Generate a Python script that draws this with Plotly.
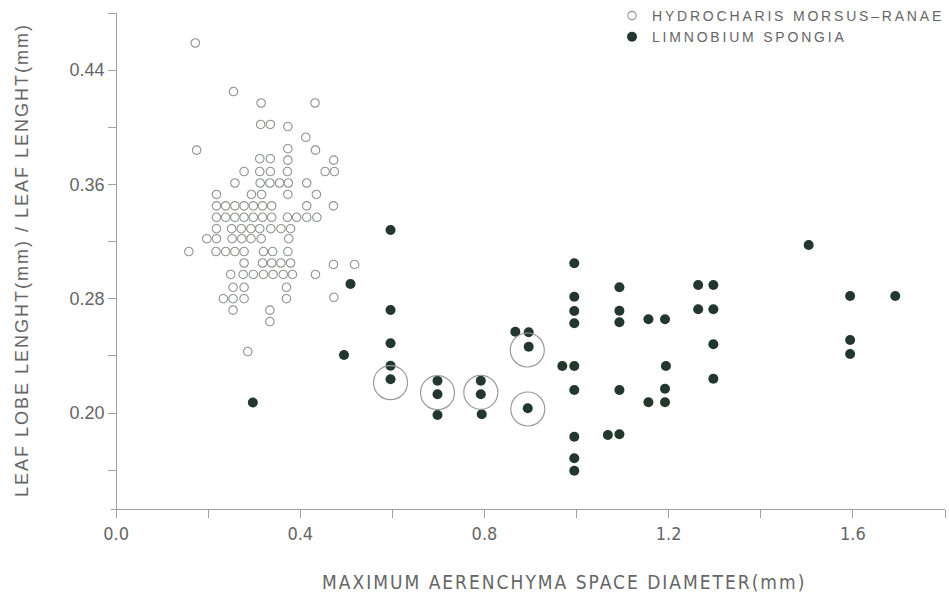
import plotly.graph_objects as go

# ---------------- data ----------------
# Hydrocharis morsus-ranae (open circles)
hydro_x = [0.172, 0.255, 0.315, 0.432, 0.314, 0.335, 0.373, 0.412,
           0.175, 0.373, 0.433, 0.312, 0.335, 0.373, 0.4725,
           0.278, 0.312, 0.335, 0.372, 0.454, 0.474,
           0.258, 0.313, 0.334, 0.355, 0.374, 0.414,
           0.218, 0.294, 0.316, 0.373, 0.435,
           0.218, 0.238, 0.258, 0.278, 0.298, 0.318, 0.338, 0.414, 0.472,
           0.218, 0.238, 0.258, 0.278, 0.298, 0.318, 0.338, 0.372, 0.392, 0.414, 0.436,
           0.218, 0.251, 0.272, 0.293, 0.312, 0.336, 0.358, 0.379,
           0.197, 0.218, 0.252, 0.273, 0.293, 0.315, 0.375,
           0.158, 0.217, 0.238, 0.258, 0.278, 0.320, 0.340, 0.373,
           0.278, 0.318, 0.338, 0.358, 0.379, 0.472, 0.518,
           0.249, 0.276, 0.298, 0.320, 0.341, 0.363, 0.383, 0.433,
           0.254, 0.278, 0.370, 0.233, 0.254, 0.278, 0.370, 0.473,
           0.254, 0.334, 0.334, 0.286]
hydro_y = [0.459, 0.425, 0.417, 0.417, 0.402, 0.402, 0.4005, 0.393,
           0.384, 0.385, 0.384, 0.378, 0.378, 0.377, 0.377,
           0.369, 0.369, 0.369, 0.369, 0.369, 0.369,
           0.361, 0.361, 0.361, 0.361, 0.361, 0.361,
           0.353, 0.353, 0.353, 0.353, 0.353,
           0.345, 0.345, 0.345, 0.345, 0.345, 0.345, 0.345, 0.345, 0.345,
           0.337, 0.337, 0.337, 0.337, 0.337, 0.337, 0.337, 0.337, 0.337, 0.337, 0.337,
           0.329, 0.329, 0.329, 0.329, 0.329, 0.329, 0.329, 0.329,
           0.322, 0.322, 0.322, 0.322, 0.322, 0.322, 0.322,
           0.313, 0.313, 0.313, 0.313, 0.313, 0.313, 0.313, 0.313,
           0.305, 0.305, 0.305, 0.305, 0.305, 0.304, 0.304,
           0.297, 0.297, 0.297, 0.297, 0.297, 0.297, 0.297, 0.297,
           0.288, 0.288, 0.288, 0.280, 0.280, 0.280, 0.280, 0.281,
           0.272, 0.272, 0.264, 0.243]

# Limnobium spongia (filled circles)
limno_x = [0.297, 0.495, 0.509,
           0.596, 0.596, 0.596, 0.596, 0.596,
           0.698, 0.698, 0.698,
           0.792, 0.792, 0.794,
           0.867, 0.896, 0.896, 0.894,
           0.969, 0.995, 0.995, 0.995, 0.995, 0.995, 0.995, 0.995, 0.995, 0.995,
           1.093, 1.093, 1.093, 1.093, 1.093, 1.068,
           1.156, 1.192, 1.194, 1.192, 1.156, 1.192,
           1.264, 1.297, 1.264, 1.297, 1.297, 1.297,
           1.504, 1.594, 1.692, 1.594, 1.594]
limno_y = [0.2073, 0.2406, 0.2903,
           0.3281, 0.2721, 0.2488, 0.2331, 0.2236,
           0.2226, 0.2131, 0.1986,
           0.2226, 0.2131, 0.1991,
           0.2569, 0.2565, 0.2464, 0.2033,
           0.2329, 0.2329, 0.3048, 0.2814, 0.2714, 0.2628, 0.2161, 0.1834, 0.1683, 0.1596,
           0.2880, 0.2716, 0.2635, 0.2161, 0.1851, 0.1846,
           0.2656, 0.2656, 0.2329, 0.2170, 0.2075, 0.2075,
           0.2896, 0.2896, 0.2726, 0.2726, 0.2481, 0.2240,
           0.3176, 0.2819, 0.2819, 0.2511, 0.2413]

# highlighted (ringed) points
ring_x = [0.596, 0.698, 0.792, 0.893, 0.894]
ring_y = [0.2212, 0.2142, 0.2145, 0.2441, 0.2028]

x_tick_vals = [0.0, 0.2, 0.4, 0.6, 0.8, 1.0, 1.2, 1.4, 1.6, 1.8]
x_tick_text = ["0.0", "", "0.4", "", "0.8", "", "1.2", "", "1.6", ""]
y_tick_vals = [0.16, 0.20, 0.24, 0.28, 0.32, 0.36, 0.40, 0.44, 0.48]
y_tick_text = ["", "0.20", "", "0.28", "", "0.36", "", "0.44", ""]

series_names = ["HYDROCHARIS MORSUS\u2013RANAE", "LIMNOBIUM SPONGIA"]
x_title = "MAXIMUM AERENCHYMA SPACE DIAMETER(mm)"
y_title = "LEAF LOBE LENGHT(mm) / LEAF LENGHT(mm)"

# ---------------- style ----------------
TEXT = "#666666"
AXIS = "#a0a0a0"
FONT = "Liberation Sans, Arial, sans-serif"
NARROW = "Liberation Sans Narrow, DejaVu Sans Condensed, DejaVu Sans, sans-serif"
X_MIN, X_MAX = -0.011, 1.8
Y_MIN, Y_MAX = 0.1328, 0.48
W, H = 949, 593
ML, MR, MT, MB = 111, 4, 13, 84
PW, PH = W - ML - MR, H - MT - MB


def spaced(t, px):
    return '<span style="letter-spacing:%spx">%s</span>' % (px, t)


def condensed(t, px=0):
    if not t:
        return t
    return ('<span style="font-stretch:condensed;letter-spacing:%spx">%s</span>'
            % (px, t))


fig = go.Figure()
fig.add_trace(go.Scatter(
    x=hydro_x, y=hydro_y, mode="markers", name=spaced(series_names[0], 2.8),
    marker=dict(symbol="circle-open", size=8.5, color="#8e938e",
                line=dict(width=1.1))))
fig.add_trace(go.Scatter(
    x=limno_x, y=limno_y, mode="markers", name=spaced(series_names[1], 2.8),
    marker=dict(symbol="circle", size=10, color="#24372f")))
fig.add_trace(go.Scatter(
    x=ring_x, y=ring_y, mode="markers", showlegend=False, hoverinfo="skip",
    marker=dict(symbol="circle-open", size=34, color="#9a9a9a",
                line=dict(width=1.2))))

fig.update_layout(
    width=W, height=H,
    margin=dict(l=ML, r=MR, t=MT, b=MB, autoexpand=False),
    paper_bgcolor="white", plot_bgcolor="white",
    font=dict(family=FONT, color=TEXT, size=14),
    showlegend=True,
    legend=dict(xref="container", yref="container",
                x=612 / W, y=1 + 6 / H, xanchor="left", yanchor="top",
                bgcolor="rgba(0,0,0,0)", font=dict(size=14, color=TEXT),
                itemwidth=30, tracegroupgap=0),
    xaxis=dict(range=[X_MIN, X_MAX], showgrid=False, zeroline=False,
               automargin=False,
               showline=True, linecolor=AXIS, linewidth=1,
               ticks="outside", ticklen=8, tickcolor=AXIS, tickwidth=1,
               tickmode="array", tickvals=x_tick_vals,
               ticktext=[condensed(t) for t in x_tick_text],
               tickfont=dict(family=NARROW, size=18, color=TEXT)),
    yaxis=dict(range=[Y_MIN, Y_MAX], showgrid=False, zeroline=False,
               automargin=False,
               anchor="free", position=(0 - X_MIN) / (X_MAX - X_MIN),
               showline=True, linecolor=AXIS, linewidth=1,
               ticks="outside", ticklen=8, tickcolor=AXIS, tickwidth=1,
               tickmode="array", tickvals=y_tick_vals, ticktext=y_tick_text,
               tickfont=dict(family=FONT, size=18, color=TEXT)),
)

# axis titles as annotations for precise placement
fig.add_annotation(xref="paper", yref="paper",
                   x=(564 - ML) / PW, y=(H - MB - 582) / PH,
                   text=condensed(x_title, 2), showarrow=False,
                   font=dict(family=NARROW, size=19, color=TEXT),
                   xanchor="center", yanchor="middle")
fig.add_annotation(xref="paper", yref="paper",
                   x=(22 - ML) / PW, y=(H - MB - 260) / PH,
                   text=spaced(y_title, 2), showarrow=False, textangle=-90,
                   font=dict(family=FONT, size=18, color=TEXT),
                   xanchor="center", yanchor="middle")

fig.write_html("out.html", config={"displayModeBar": False},
               post_script="document.body.style.margin='0';")
